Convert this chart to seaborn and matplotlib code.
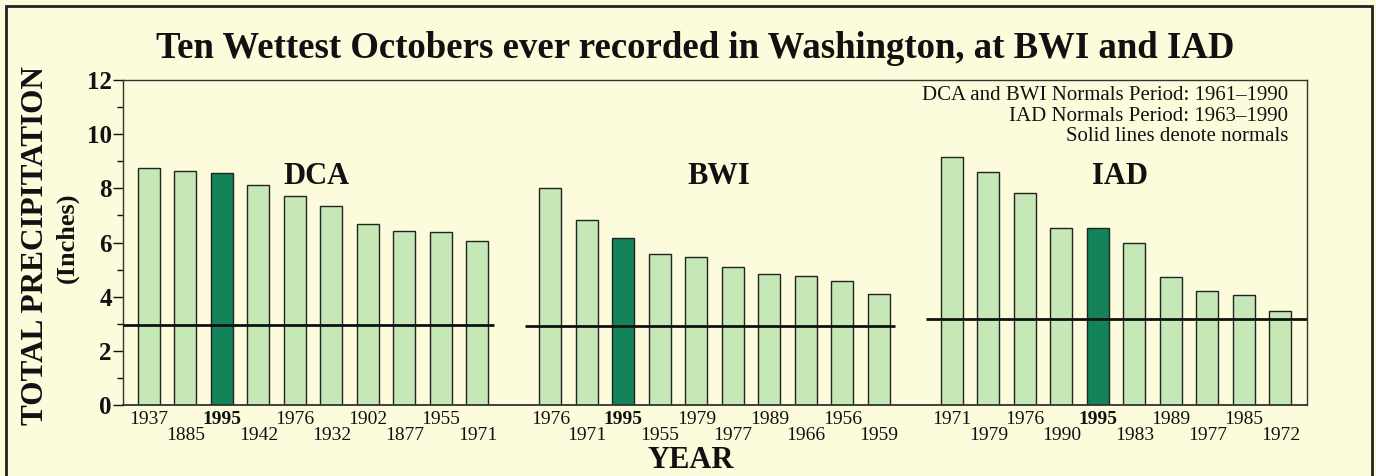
import matplotlib
matplotlib.use("Agg")
import matplotlib.pyplot as plt
import seaborn as sns
import pandas as pd
from matplotlib.patches import Rectangle

# --- data ---
stations = ["DCA", "BWI", "IAD"]
dca_years = ["1937", "1885", "1995", "1942", "1976", "1932", "1902", "1877", "1955", "1971"]
dca_precip = [8.76, 8.64, 8.58, 8.13, 7.71, 7.34, 6.70, 6.44, 6.39, 6.05]
bwi_years = ["1976", "1971", "1995", "1955", "1979", "1977", "1989", "1966", "1956", "1959"]
bwi_precip = [8.02, 6.83, 6.18, 5.59, 5.47, 5.10, 4.85, 4.75, 4.59, 4.11]
iad_years = ["1971", "1979", "1976", "1990", "1995", "1983", "1989", "1977", "1985", "1972"]
iad_precip = [9.15, 8.62, 7.84, 6.52, 6.52, 5.99, 4.73, 4.21, 4.06, 3.47]
normals = [2.96, 2.91, 3.17]
notes = ["DCA and BWI Normals Period: 1961\u20131990",
         "IAD Normals Period: 1963\u20131990",
         "Solid lines denote normals"]
highlight_year = "1995"

BG = "#FCFCDD"
LIGHT = "#C6E8B6"
DARK = "#13845A"
SERIF = ["Liberation Serif", "DejaVu Serif"]

sns.set_theme(style="white")
plt.rcParams["font.family"] = SERIF

# build one long table; empty slots between stations make the gaps
groups = [dca_years, bwi_years, iad_years]
values = [dca_precip, bwi_precip, iad_precip]
rows, order = [], []
for gi, (st, yrs, vals) in enumerate(zip(stations, groups, values)):
    if gi > 0:
        order.append(f"gap{gi}")
    for y, v in zip(yrs, vals):
        key = f"{st}-{y}"
        order.append(key)
        rows.append({"key": key, "station": st, "year": y, "precip": v,
                     "hl": "yes" if y == highlight_year else "no"})
df = pd.DataFrame(rows)

fig = plt.figure(figsize=(13.76, 4.76), dpi=100, facecolor=BG)
ax = fig.add_axes([0.0894, 0.149, 0.8605, 0.683])
ax.set_facecolor(BG)

sns.barplot(data=df, x="key", y="precip", order=order, hue="hl",
            palette={"no": LIGHT, "yes": DARK}, dodge=False, legend=False,
            saturation=1, width=0.6, edgecolor="#222222", linewidth=1.0, ax=ax)

ax.set_xlim(-0.71, len(order) - 1 + 0.73)
ax.set_ylim(0, 12)
ax.set_xlabel("")
ax.set_ylabel("")

# normal lines for each station
xl = ax.get_xlim()
for gi, st in enumerate(stations):
    idx = [order.index(k) for k in df.loc[df.station == st, "key"]]
    x0 = xl[0] if gi == 0 else min(idx) - 0.7
    x1 = xl[1] if gi == len(stations) - 1 else max(idx) + 0.45
    ax.hlines(normals[gi], x0, x1, color="#111111", linewidth=2.0, zorder=5)
    cx = (min(idx) + max(idx)) / 2 + 0.1
    ax.text(cx, 8.45, st, ha="center", va="center", fontsize=22,
            fontweight="bold", color="#111111")

# staggered year labels
pos = [order.index(k) for k in df["key"]]
labels = [("" if i % 2 == 0 else "\n") + y for i, y in enumerate(df["year"])]
ax.set_xticks(pos)
ax.set_xticklabels(labels, fontsize=14, linespacing=0.95)
for lab, y in zip(ax.get_xticklabels(), df["year"]):
    if y == highlight_year:
        lab.set_fontweight("bold")
ax.tick_params(axis="x", length=0, pad=4, colors="#111111")

ax.set_yticks(range(0, 13, 2))
ax.set_yticks(range(1, 12, 2), minor=True)
ax.set_yticklabels([str(v) for v in range(0, 13, 2)], fontsize=18,
                   fontweight="bold")
ax.tick_params(axis="y", which="major", length=7, width=1, direction="out",
               left=True, colors="#111111", pad=1)
ax.tick_params(axis="y", which="minor", length=4, width=1, direction="out",
               left=True, colors="#111111")

for s in ax.spines.values():
    s.set_visible(True)
    s.set_color("#333333")
    s.set_linewidth(1.0)
ax.spines["bottom"].set_linewidth(1.3)

# notes text in the upper right
for i, line in enumerate(notes):
    ax.text(0.984, 0.982 - i * 0.064, line, transform=ax.transAxes,
            ha="right", va="top", fontsize=15, color="#111111")

fig.text(0.505, 0.899, "Ten Wettest Octobers ever recorded in Washington, at BWI and IAD",
         ha="center", va="center", fontsize=26.5, fontweight="bold", color="#111111")
fig.text(0.0255, 0.485, "TOTAL PRECIPITATION", rotation=90, ha="center",
         va="center", fontsize=22.5, fontweight="bold", color="#111111")
fig.text(0.049, 0.50, "(Inches)", rotation=90, ha="center", va="center",
         fontsize=19, fontweight="bold", color="#111111")
fig.text(0.502, 0.002, "YEAR", ha="center", va="bottom", fontsize=22,
         fontweight="bold", color="#111111")

# outer frame (bottom edge runs off the image)
fig.patches.append(Rectangle((0.0045, -0.05), 0.9925, 1.037, transform=fig.transFigure,
                             fill=False, edgecolor="#222222", linewidth=2.0))

fig.savefig("out.png", dpi=100, facecolor=BG)
